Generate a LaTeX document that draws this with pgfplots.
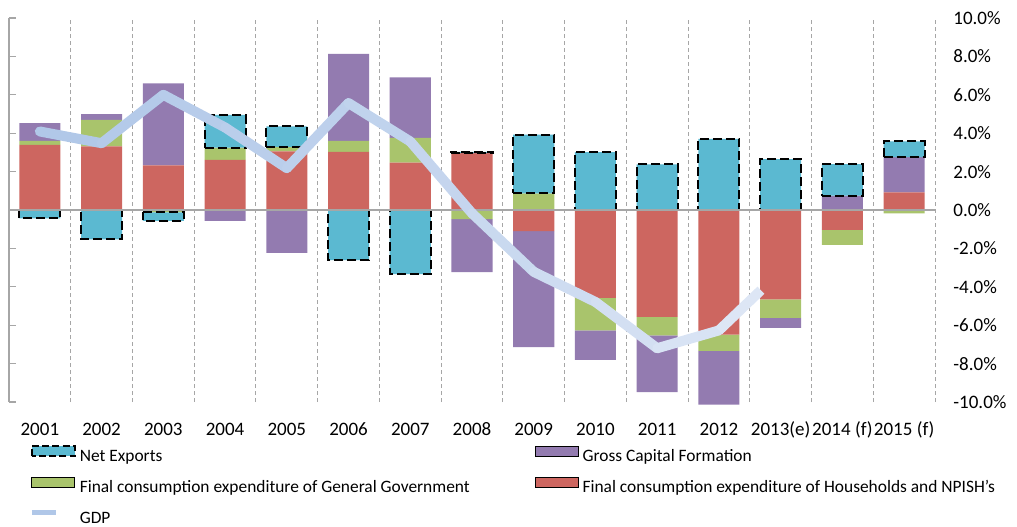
\documentclass[border=0pt]{standalone}
\usepackage{fontspec}
\setmainfont{Carlito}
\usepackage{pgfplots}
\pgfplotsset{compat=1.18}
\usepackage{pgfplotstable}

\definecolor{cRed}{RGB}{205,102,96}
\definecolor{cGreen}{RGB}{169,196,108}
\definecolor{cPurple}{RGB}{147,123,176}
\definecolor{cBlue}{RGB}{91,185,209}
\definecolor{gdpA}{RGB}{176,199,232}
\definecolor{gdpB}{RGB}{226,234,247}
\definecolor{gridc}{RGB}{166,166,166}

% positive parts, negative parts (stacked separately), base of net exports, net exports
\pgfplotstableread{
x  redp greenp purplep redn   greenn purplen bluebase blue
0  3.39 0.21   0.92    0      0      0       0        -0.44
1  3.31 1.39   0.30    0      0      0       0        -1.53
2  2.32 0      4.28    0      -0.12  0       -0.12    -0.44
3  2.61 0.64   0       0      0      -0.57   3.25     1.71
4  3.05 0.24   0       0      0      -2.23   3.29     1.06
5  3.03 0.57   4.53    0      0      0       0        -2.61
6  2.47 1.29   3.15    0      0      0       0        -3.34
7  2.96 0      0       0      -0.47  -2.77   2.96     0.07
8  0    0.87   0       -1.10  0      -6.04   0.87     3.05
9  0    0      0       -4.58  -1.69  -1.53   0        3.01
10 0    0      0       -5.57  -0.96  -2.96   0        2.37
11 0    0      0       -6.49  -0.85  -2.80   0        3.71
12 0    0      0       -4.66  -0.96  -0.52   0        2.65
13 0    0      0.75    -1.04  -0.78  0       0.75     1.64
14 0.92 0      1.83    0      -0.17  0       2.75     0.82
}\bars

\pgfplotsset{
  base/.style={scale only axis, width=463pt, height=192pt,
    xmin=-0.5, xmax=14.5, ymin=-10, ymax=10,
    at={(0,0)}, anchor=south west, clip=false},
  neborder/.style={draw=black, line width=1pt, dash pattern=on 4.5pt off 2pt},
  barlegend/.style={legend image code/.code={\draw[##1] (0pt,0.5pt) rectangle (21.5pt,5.5pt);}},
  linelegend/.style={legend image code/.code={\draw[##1] (0pt,3pt) -- (12pt,3pt);}},
}

\begin{document}
\begin{tikzpicture}
% ---------- bars: households, government, capital formation ----------
\begin{axis}[base,
  ybar stacked, bar width=0.665,
  axis line style={draw=none},
  tick pos=left,
  xtick={0,...,14},
  xticklabels={2001,2002,2003,2004,2005,2006,2007,2008,2009,2010,2011,2012,2013(e),2014 (f),2015 (f)},
  minor xtick={0.5,1.5,...,14.5},
  xminorgrids,
  minor grid style={gridc, line width=0.5pt, dash pattern=on 2pt off 1.5pt},
  major x tick style={draw=none},
  minor x tick style={draw=none},
  ytick={-10,-8,...,10},
  y tick style={gridc, line width=0.6pt},
  major tick length=3.5pt,
  tick align=inside,
  /pgf/number format/assume math mode=true,
  yticklabel={\pgfmathprintnumber[fixed,fixed zerofill,precision=1]{\tick}\%},
  yticklabel style={anchor=west, xshift=472pt, inner xsep=0pt, font=\fontsize{9.5}{11}\selectfont},
  xticklabel style={anchor=base, yshift=-16.5pt, font=\fontsize{9.5}{11}\selectfont},
]
\addplot[fill=cRed, draw=none] table[x=x, y=redp]{\bars};
\addplot[fill=cGreen, draw=none] table[x=x, y=greenp]{\bars};
\addplot[fill=cPurple, draw=none] table[x=x, y=purplep]{\bars};
\addplot[fill=cRed, draw=none] table[x=x, y=redn]{\bars};
\addplot[fill=cGreen, draw=none] table[x=x, y=greenn]{\bars};
\addplot[fill=cPurple, draw=none] table[x=x, y=purplen]{\bars};
\draw[gridc, line width=0.75pt] (rel axis cs:0,0) -- (rel axis cs:0,1);
\end{axis}

% ---------- net exports ----------
\begin{axis}[base, hide axis, ybar stacked, bar width=0.665]
\addplot[fill=none, draw=none] table[x=x, y=bluebase]{\bars};
\addplot[fill=cBlue, neborder] table[x=x, y=blue]{\bars};
\end{axis}

% ---------- zero line, GDP, legend ----------
\begin{axis}[base, hide axis,
  legend columns=2,
  legend cell align=left,
  legend style={at={(0,0)}, anchor=north west, xshift=10pt, yshift=-21.5pt,
    draw=none, fill=none, inner sep=0pt,
    font=\fontsize{8.7}{10}\selectfont,
    row sep=3.9pt,
    /tikz/every even column/.append style={column sep=30.5pt}},
]
\addlegendimage{fill=cBlue, draw=black, line width=0.9pt, dash pattern=on 3.5pt off 1.6pt, barlegend}
\addlegendimage{fill=cPurple, draw=none, barlegend}
\addlegendimage{fill=cGreen, draw=none, barlegend}
\addlegendimage{fill=cRed, draw=none, barlegend}
\addlegendimage{color=gdpA, line width=2.5pt, linelegend}
\legend{Net Exports, Gross Capital Formation,
  Final consumption expenditure of General Government,
  Final consumption expenditure of Households and NPISH's, GDP}

\addplot[forget plot, gridc, line width=0.8pt] coordinates {(-0.5,0) (14.5,0)};

\addplot[forget plot, line width=5pt, line cap=round, color=gdpB!2!gdpA] coordinates {(0,4.09) (1,3.48)};
\addplot[forget plot, line width=5pt, line cap=round, color=gdpB!8!gdpA] coordinates {(1,3.48) (2,6.00)};
\addplot[forget plot, line width=5pt, line cap=round, color=gdpB!14!gdpA] coordinates {(2,6.00) (3,4.30)};
\addplot[forget plot, line width=5pt, line cap=round, color=gdpB!20!gdpA] coordinates {(3,4.30) (4,2.18)};
\addplot[forget plot, line width=5pt, line cap=round, color=gdpB!26!gdpA] coordinates {(4,2.18) (5,5.57)};
\addplot[forget plot, line width=5pt, line cap=round, color=gdpB!33!gdpA] coordinates {(5,5.57) (6,3.57)};
\addplot[forget plot, line width=5pt, line cap=round, color=gdpB!41!gdpA] coordinates {(6,3.57) (7,-0.17)};
\addplot[forget plot, line width=5pt, line cap=round, color=gdpB!50!gdpA] coordinates {(7,-0.17) (8,-3.22)};
\addplot[forget plot, line width=5pt, line cap=round, color=gdpB!60!gdpA] coordinates {(8,-3.22) (9,-4.79)};
\addplot[forget plot, line width=5pt, line cap=round, color=gdpB!70!gdpA] coordinates {(9,-4.79) (10,-7.20)};
\addplot[forget plot, line width=5pt, line cap=round, color=gdpB!80!gdpA] coordinates {(10,-7.20) (11,-6.27)};
\addplot[forget plot, line width=5pt, line cap=butt, color=gdpB!90!gdpA] coordinates {(11,-6.27) (11.68,-4.18)};
\end{axis}

\pgfresetboundingbox
\path[use as bounding box] (-4.5pt,-62pt) rectangle (504pt,201pt);
\end{tikzpicture}
\end{document}
